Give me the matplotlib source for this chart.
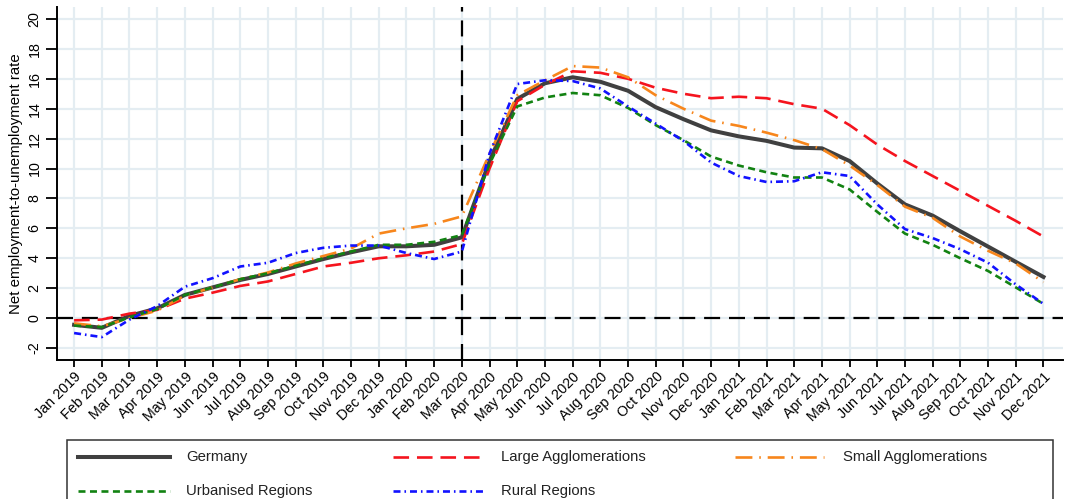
import matplotlib
matplotlib.use("Agg")
import matplotlib.pyplot as plt
import numpy as np
from matplotlib.lines import Line2D
from matplotlib.patches import Rectangle

months = ["Jan 2019", "Feb 2019", "Mar 2019", "Apr 2019", "May 2019", "Jun 2019",
          "Jul 2019", "Aug 2019", "Sep 2019", "Oct 2019", "Nov 2019", "Dec 2019",
          "Jan 2020", "Feb 2020", "Mar 2020", "Apr 2020", "May 2020", "Jun 2020",
          "Jul 2020", "Aug 2020", "Sep 2020", "Oct 2020", "Nov 2020", "Dec 2020",
          "Jan 2021", "Feb 2021", "Mar 2021", "Apr 2021", "May 2021", "Jun 2021",
          "Jul 2021", "Aug 2021", "Sep 2021", "Oct 2021", "Nov 2021", "Dec 2021"]

germany = [-0.45, -0.65, 0.15, 0.65, 1.55, 2.05, 2.55, 2.95, 3.45, 3.95, 4.4, 4.8,
           4.8, 4.9, 5.4, 10.5, 14.65, 15.7, 16.1, 15.8, 15.2, 14.1, 13.3, 12.55,
           12.15, 11.85, 11.4, 11.35, 10.5, 9.0, 7.6, 6.85, 5.8, 4.78, 3.76, 2.75]
large = [-0.15, -0.1, 0.3, 0.55, 1.3, 1.7, 2.15, 2.45, 2.95, 3.45, 3.7, 4.0,
         4.2, 4.45, 4.95, 10.0, 14.5, 15.6, 16.5, 16.4, 16.0, 15.4, 15.0, 14.7,
         14.8, 14.7, 14.3, 14.0, 12.9, 11.6, 10.5, 9.5, 8.5, 7.5, 6.5, 5.45]
small = [-0.35, -0.55, 0.0, 0.5, 1.5, 2.05, 2.6, 3.05, 3.65, 4.15, 4.65, 5.65,
         6.0, 6.3, 6.8, 11.0, 14.9, 15.9, 16.85, 16.75, 16.1, 14.9, 14.0, 13.2,
         12.85, 12.4, 11.9, 11.3, 10.2, 8.9, 7.45, 6.7, 5.45, 4.5, 3.65, 2.4]
urban = [-0.5, -0.6, 0.05, 0.6, 1.55, 2.05, 2.6, 3.0, 3.5, 4.0, 4.45, 4.9,
         4.9, 5.1, 5.55, 10.3, 14.15, 14.75, 15.05, 14.9, 14.05, 12.9, 11.9, 10.8,
         10.2, 9.75, 9.4, 9.4, 8.6, 7.1, 5.65, 4.9, 4.0, 3.15, 2.05, 0.95]
rural = [-1.0, -1.27, -0.1, 0.8, 2.1, 2.67, 3.45, 3.7, 4.35, 4.7, 4.85, 4.85,
         4.35, 3.95, 4.45, 11.0, 15.65, 15.9, 15.85, 15.35, 14.15, 13.0, 11.85, 10.4,
         9.5, 9.1, 9.15, 9.75, 9.5, 7.6, 5.95, 5.35, 4.6, 3.7, 2.25, 0.95]

yticks = [-2, 0, 2, 4, 6, 8, 10, 12, 14, 16, 18, 20]
ylabel = "Net employment-to-unemployment rate"
break_month = "Mar 2020"
series_names = ["Germany", "Large Agglomerations", "Small Agglomerations",
                "Urbanised Regions", "Rural Regions"]

plt.rcParams['font.family'] = ['Liberation Sans', 'DejaVu Sans']

W, H = 1065, 499
fig = plt.figure(figsize=(W / 100, H / 100), dpi=100)
ax = fig.add_axes([0.0532, 0.2786, 0.9448, 0.7074])

x = np.arange(len(months))
grid_c = "#e4edf2"
for xi in x:
    ax.axvline(xi, color=grid_c, lw=1.6, zorder=0)
for yt in yticks:
    ax.axhline(yt, color=grid_c, lw=1.6, zorder=0)

ax.axhline(0, color="black", lw=1.6, dashes=(7.2, 4), zorder=1)
ax.axvline(months.index(break_month), color="black", lw=1.6, dashes=(7.2, 4), zorder=1)

styles = {
    "Germany": dict(color="#404040", lw=2.9, linestyle="-", solid_joinstyle="round"),
    "Large Agglomerations": dict(color="#f5141e", lw=1.9, dashes=(5.9, 3.0)),
    "Small Agglomerations": dict(color="#f7861c", lw=1.9, dashes=(6.4, 2.6, 0.6, 2.6)),
    "Urbanised Regions": dict(color="#128212", lw=1.9, dashes=(2.65, 1.7)),
    "Rural Regions": dict(color="#1212ff", lw=1.9, dashes=(2.65, 1.5, 0.6, 1.5)),
}
data = {"Germany": germany, "Large Agglomerations": large,
        "Small Agglomerations": small, "Urbanised Regions": urban,
        "Rural Regions": rural}
zord = {"Germany": 3}
for name in series_names:
    ax.plot(x, data[name], zorder=zord.get(name, 4), **styles[name])

ax.set_xlim(-0.63, 35.7)
ax.set_ylim(-2.8, 20.8)
ax.set_xticks(x)
ax.set_xticklabels(months, rotation=45, ha="right", rotation_mode="anchor", fontsize=10.3)
ax.set_yticks(yticks)
ax.set_yticklabels([str(v) for v in yticks], rotation=90, va="center", fontsize=10.3)
ax.tick_params(axis="x", length=5, width=1.3, pad=2)
ax.tick_params(axis="y", length=8, width=1.3, pad=3)
for s in ["top", "right"]:
    ax.spines[s].set_visible(False)
for s in ["left", "bottom"]:
    ax.spines[s].set_linewidth(1.4)
ax.set_ylabel(ylabel, fontsize=10.8, labelpad=3)

# legend (drawn manually to match layout)
def fx(px):
    return px / W

def fy(py):
    return 1 - py / H

fig.add_artist(Rectangle((fx(66.7), fy(520)), fx(1052.7) - fx(66.7), fy(440) - fy(520),
                         transform=fig.transFigure, fill=False, edgecolor="#333333",
                         lw=1.1, clip_on=False))
legend_pos = {
    "Germany": (78, 170, 186, 457),
    "Large Agglomerations": (393, 483, 501, 457),
    "Small Agglomerations": (735, 824, 843, 457),
    "Urbanised Regions": (78, 170, 186, 491),
    "Rural Regions": (393, 483, 501, 491),
}
for name in series_names:
    h0, h1, tx, ty = legend_pos[name]
    st = dict(styles[name])
    fig.add_artist(Line2D([fx(h0), fx(h1)], [fy(ty), fy(ty)], transform=fig.transFigure, **st))
    fig.text(fx(tx), fy(ty), name, fontsize=10.7, va="center", ha="left", color="#222222")

fig.savefig("out.png", dpi=100)
